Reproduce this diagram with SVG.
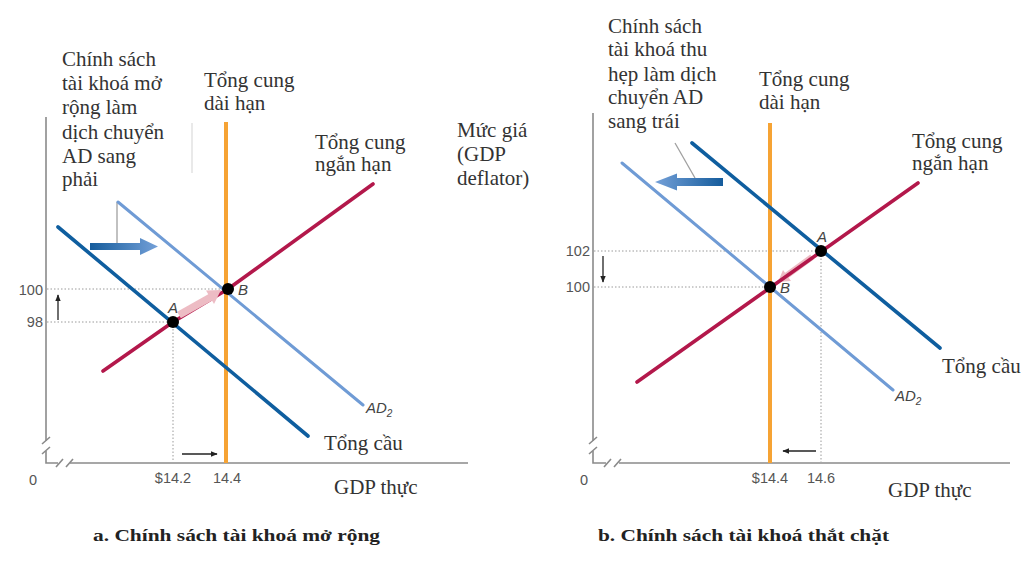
<svg xmlns="http://www.w3.org/2000/svg" width="1024" height="576" viewBox="0 0 1024 576">
<defs>
<style>
.lbl{font-family:"Liberation Serif","Times New Roman",serif;font-size:21px;fill:#333}
.cap{font-family:"Liberation Serif","Times New Roman",serif;font-size:17px;font-weight:bold;fill:#222}
.num{font-family:"Liberation Sans",Arial,sans-serif;font-size:14.5px;fill:#555}
.pt{font-family:"Liberation Sans",Arial,sans-serif;font-size:15px;font-style:italic;fill:#444}
.axis{stroke:#8a8a8a;stroke-width:1.6;fill:none}
.dot{stroke:#9a9a9a;stroke-width:1;stroke-dasharray:1.5 2;fill:none}
.lras{stroke:#F6A334;stroke-width:4;fill:none}
.sras{stroke:#B3184B;stroke-width:3.6;fill:none;stroke-linejoin:round;stroke-linecap:round}
.ad{stroke:#0F5E9F;stroke-width:3.6;fill:none;stroke-linecap:round}
.ad2{stroke:#6F9BD5;stroke-width:3;fill:none;stroke-linecap:round}
.eq{fill:#000}
.small{stroke:#222;stroke-width:1.3;fill:none}
.lead{stroke:#a0a0a0;stroke-width:1.3;fill:none}
.pink{fill:#EDBCC4}
</style>
<linearGradient id="gR" x1="0" y1="0" x2="1" y2="0">
<stop offset="0" stop-color="#155C9C"/><stop offset="1" stop-color="#74A0D8"/>
</linearGradient>
<linearGradient id="gL" x1="1" y1="0" x2="0" y2="0">
<stop offset="0" stop-color="#155C9C"/><stop offset="1" stop-color="#74A0D8"/>
</linearGradient>
<marker id="ah" viewBox="0 0 10 10" refX="9" refY="5" markerWidth="7" markerHeight="7" orient="auto" markerUnits="userSpaceOnUse">
<path d="M0,1 L10,5 L0,9 Z" fill="#222"/>
</marker>
</defs>
<rect width="1024" height="576" fill="#fff"/>

<!-- ===== Panel a ===== -->
<g id="axes-a">
<path class="axis" d="M46,117 V441 M46,451 V463 H58 M70,463 H468"/>
<path class="axis" d="M42,444 L50,437 M42,454 L50,447 M56,467 L63,459 M66,467 L73,459"/>
<text class="num" x="33" y="485" text-anchor="middle">0</text>
<text class="num" x="43" y="295" text-anchor="end">100</text>
<text class="num" x="43" y="327" text-anchor="end">98</text>
<text class="num" x="173" y="483" text-anchor="middle">$14.2</text>
<text class="num" x="227" y="483" text-anchor="middle">14.4</text>
<line x1="192" y1="123" x2="192" y2="173" stroke="#e2e2e2" stroke-width="1.5"/>
</g>
<g id="connectors-a">
<path class="dot" d="M47,289 H228 M47,322 H173 V462"/>
<line class="small" x1="58" y1="320" x2="58" y2="295" marker-end="url(#ah)"/>
<line class="small" x1="182" y1="454" x2="217" y2="454" marker-end="url(#ah)"/>
<line class="lead" x1="117" y1="202" x2="117" y2="243"/>
<path d="M90,243 H140 V238 L158,246.5 L140,255 V250 H90 Z" fill="url(#gR)"/>
</g>
<g id="curves-a">
<line class="lras" x1="226" y1="122" x2="226" y2="463"/>
<polyline class="sras" points="103,371 173,322 228,289 373,184"/>
<line class="ad" x1="58" y1="227" x2="308" y2="436"/>
<line class="ad2" x1="118" y1="202" x2="363" y2="405"/>
</g>
<g id="shift-a">
<line x1="179" y1="315" x2="211" y2="297" stroke="#EDBCC4" stroke-width="7.5"/>
<path class="pink" d="M221,290 L206,290.5 L214,304 Z"/>
</g>
<g id="points-a">
<circle class="eq" cx="173" cy="322" r="6"/>
<circle class="eq" cx="228" cy="289" r="6"/>
<text class="pt" x="168" y="313">A</text>
<text class="pt" x="238" y="295">B</text>
</g>
<g id="labels-a">
<text class="lbl" x="62"><tspan x="62" y="66">Chính sách</tspan><tspan x="62" y="90">tài khoá mở</tspan><tspan x="62" y="114">rộng làm</tspan><tspan x="62" y="139">dịch chuyển</tspan><tspan x="62" y="163">AD sang</tspan><tspan x="62" y="186">phải</tspan></text>
<text class="lbl" x="204"><tspan x="204" y="87">Tổng cung</tspan><tspan x="204" y="110">dài hạn</tspan></text>
<text class="lbl" x="315"><tspan x="315" y="149">Tổng cung</tspan><tspan x="315" y="171">ngắn hạn</tspan></text>
<text class="lbl" x="457"><tspan x="457" y="137">Mức giá</tspan><tspan x="457" y="161">(GDP</tspan><tspan x="457" y="185">deflator)</tspan></text>
<text class="pt" x="366" y="413">AD<tspan font-size="10" dy="4">2</tspan></text>
<text class="lbl" x="324" y="450">Tổng cầu</text>
<text class="lbl" x="334" y="494">GDP thực</text>
<text class="cap" x="93" y="541" textLength="287" lengthAdjust="spacingAndGlyphs">a. Chính  sách tài khoá mở rộng</text>
</g>

<!-- ===== Panel b ===== -->
<g id="axes-b">
<path class="axis" d="M593,113 V441 M593,451 V463 H606 M619,463 H1010"/>
<path class="axis" d="M589,444 L597,437 M589,454 L597,447 M604,467 L611,459 M614,467 L621,459"/>
<text class="num" x="584" y="485" text-anchor="middle">0</text>
<text class="num" x="590" y="256" text-anchor="end">102</text>
<text class="num" x="590" y="292" text-anchor="end">100</text>
<text class="num" x="770" y="483" text-anchor="middle">$14.4</text>
<text class="num" x="821" y="483" text-anchor="middle">14.6</text>
</g>
<g id="connectors-b">
<path class="dot" d="M594,251 H821 V462 M594,287 H770"/>
<line class="small" x1="603" y1="256" x2="603" y2="282" marker-end="url(#ah)"/>
<line class="small" x1="816" y1="451" x2="783" y2="451" marker-end="url(#ah)"/>
<line class="lead" x1="675" y1="143" x2="695" y2="178"/>
<path d="M723,178 H677 V173.5 L655,182 L677,190.5 V186 H723 Z" fill="url(#gL)"/>
<line x1="812" y1="257" x2="786" y2="276" stroke="#EDBCC4" stroke-width="6"/>
<path class="pink" d="M778,282 L783,270 L791,281 Z"/>
</g>
<g id="curves-b">
<line class="lras" x1="770" y1="123" x2="770" y2="463"/>
<line class="sras" x1="637" y1="382" x2="918" y2="183"/>
<line class="ad" x1="692" y1="143" x2="940" y2="348"/>
<line class="ad2" x1="622" y1="163" x2="893" y2="390"/>
</g>
<g id="points-b">
<circle class="eq" cx="821" cy="251" r="6"/>
<circle class="eq" cx="770" cy="287" r="6"/>
<text class="pt" x="817" y="242">A</text>
<text class="pt" x="780" y="293">B</text>
</g>
<g id="labels-b">
<text class="lbl" x="608"><tspan x="608" y="33">Chính sách</tspan><tspan x="608" y="56">tài khoá thu</tspan><tspan x="608" y="81">hẹp làm dịch</tspan><tspan x="608" y="104">chuyển AD</tspan><tspan x="608" y="128">sang trái</tspan></text>
<text class="lbl" x="759"><tspan x="759" y="86">Tổng cung</tspan><tspan x="759" y="109">dài hạn</tspan></text>
<text class="lbl" x="912"><tspan x="912" y="148">Tổng cung</tspan><tspan x="912" y="170">ngắn hạn</tspan></text>
<text class="lbl" x="942" y="373">Tổng cầu</text>
<text class="pt" x="895" y="401">AD<tspan font-size="10" dy="4">2</tspan></text>
<text class="lbl" x="888" y="497">GDP thực</text>
<text class="cap" x="598" y="541" textLength="291" lengthAdjust="spacingAndGlyphs">b. Chính  sách tài khoá thắt chặt</text>
</g>
</svg>
